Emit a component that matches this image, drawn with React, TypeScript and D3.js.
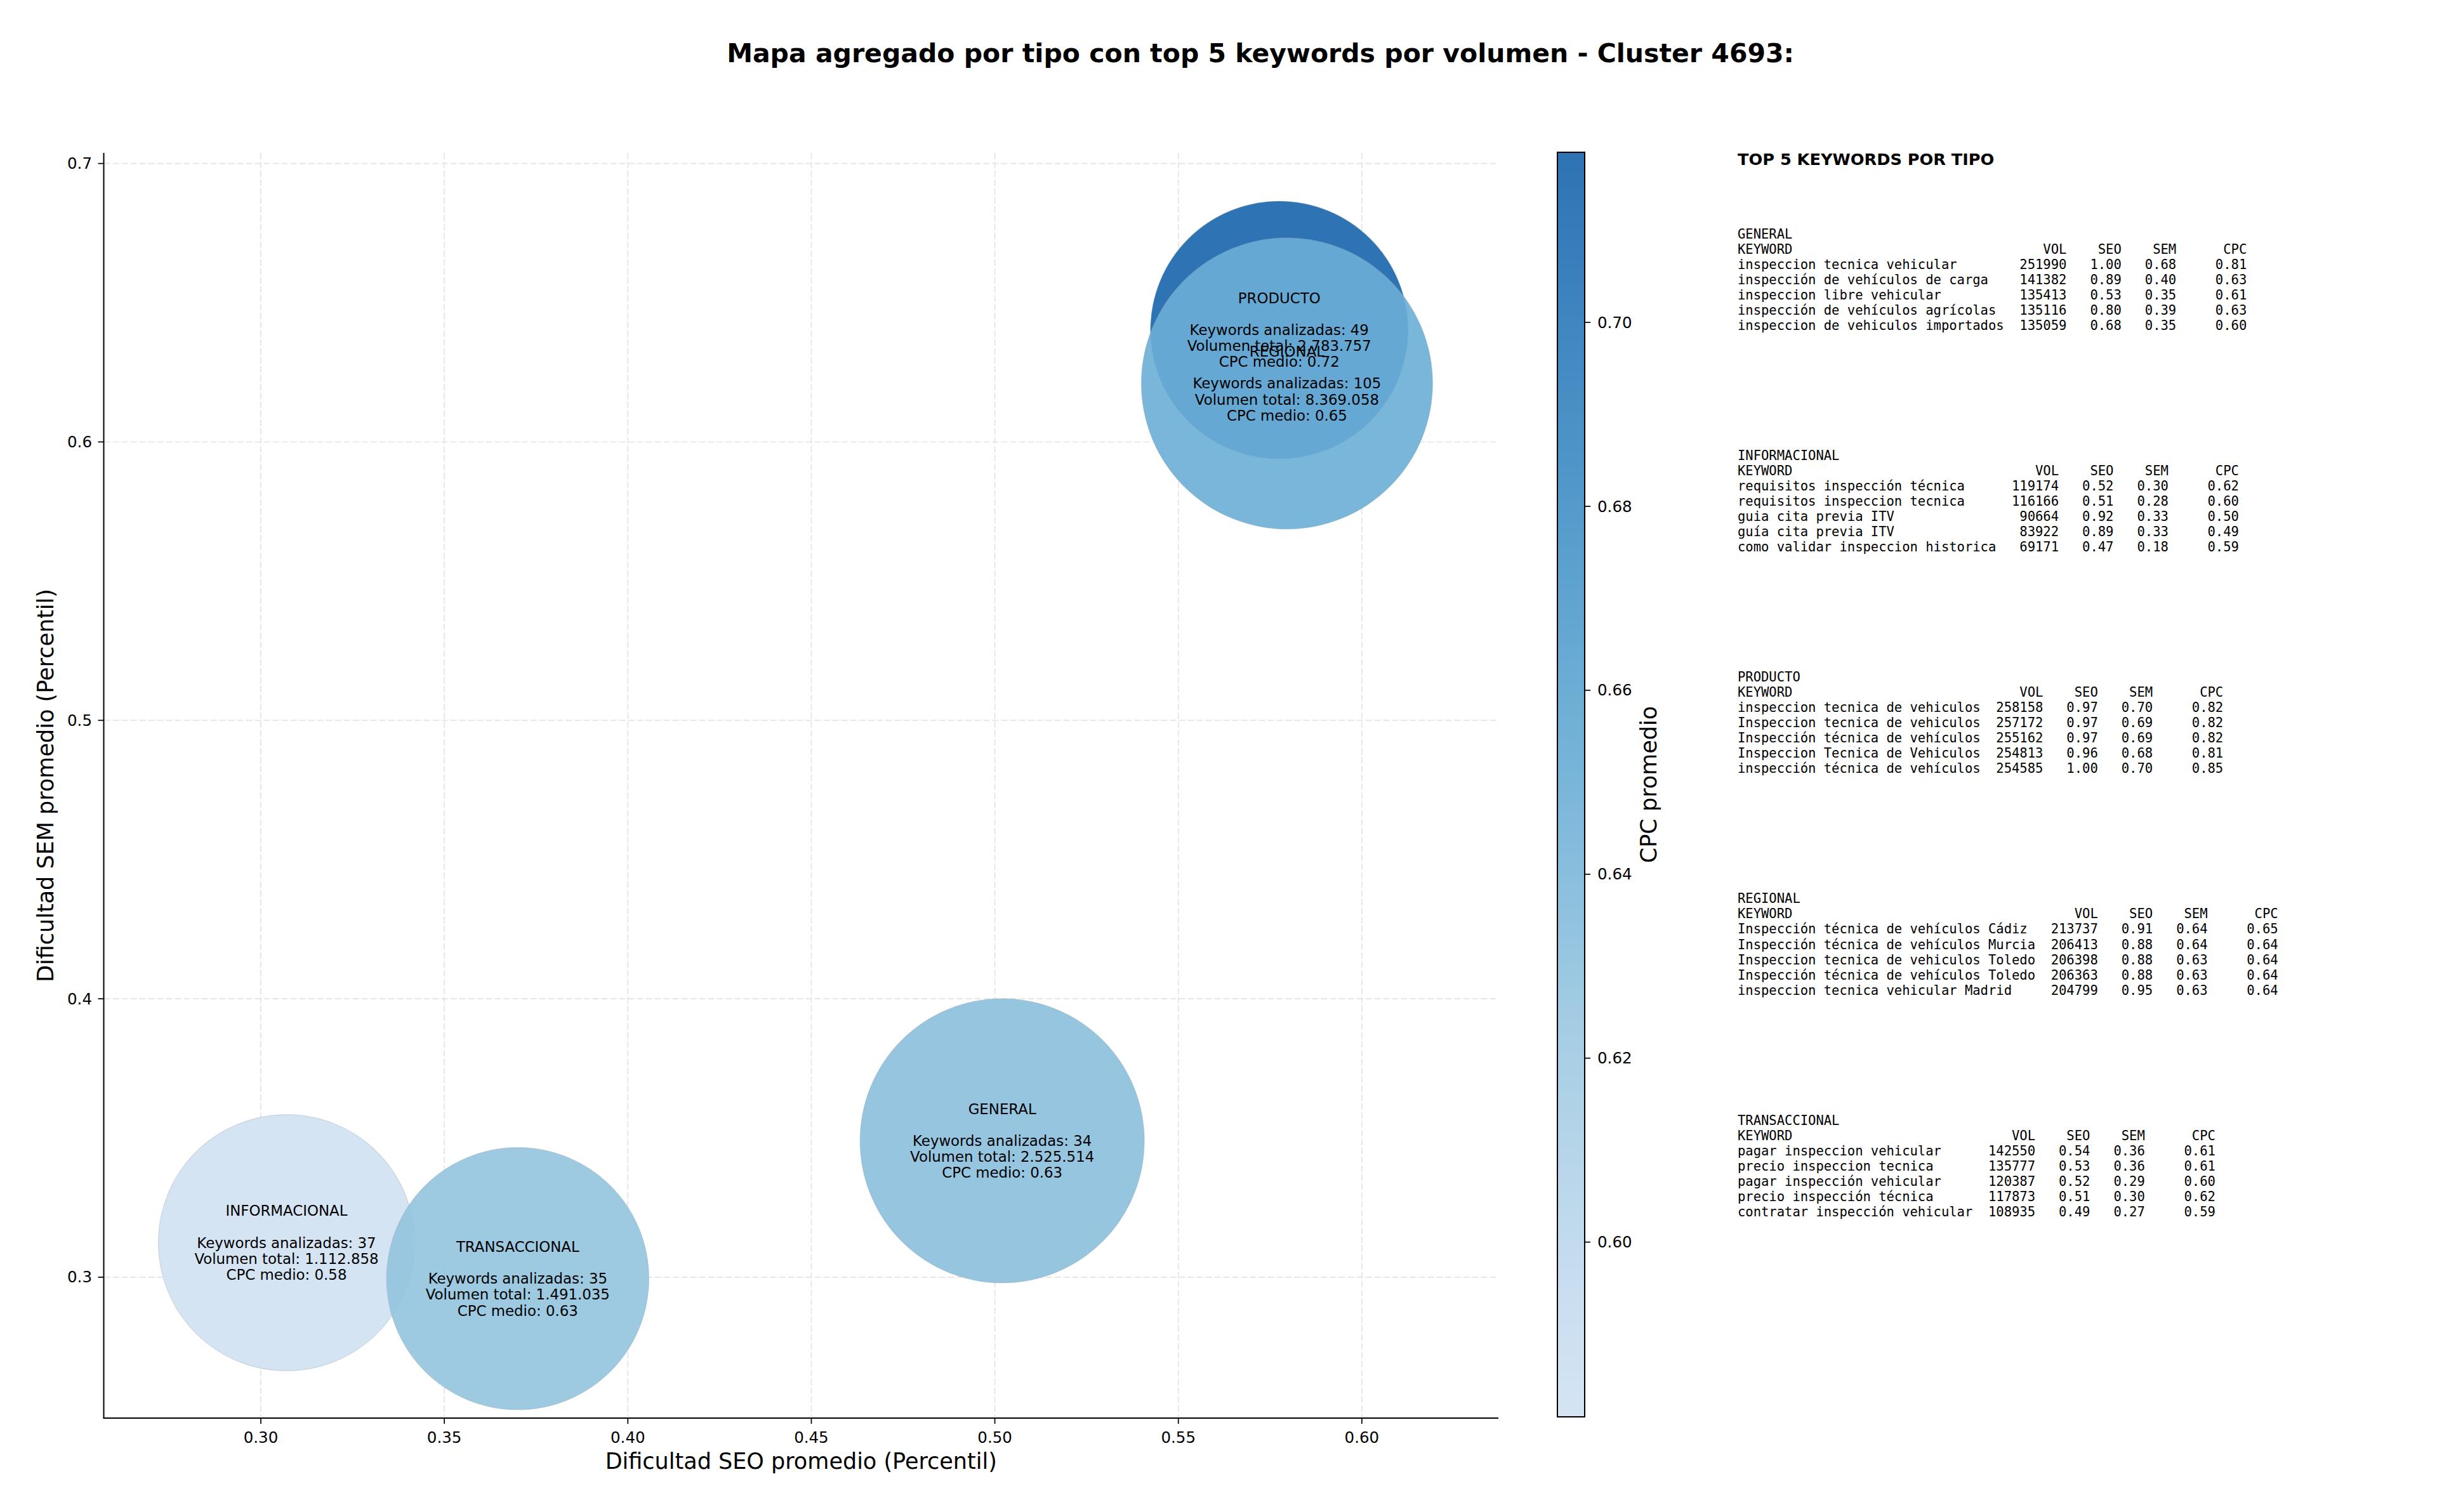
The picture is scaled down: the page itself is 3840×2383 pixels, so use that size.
import React from 'react';
import * as d3 from 'd3';

// ---------- data ----------
const types = ['GENERAL', 'INFORMACIONAL', 'PRODUCTO', 'REGIONAL', 'TRANSACCIONAL'];
const seoAvg = [0.502, 0.307, 0.5775, 0.5796, 0.37];
const semAvg = [0.349, 0.3124, 0.6402, 0.621, 0.2995];
const cpcAvg = [0.632, 0.581, 0.7185, 0.65, 0.628];
const kwCount = [34, 37, 49, 105, 35];
const volTotal = [2525514, 1112858, 2783757, 8369058, 1491035];
const bubbleSize = [5018, 4080, 4121, 5267, 4273];

const xTicks = [0.3, 0.35, 0.4, 0.45, 0.5, 0.55, 0.6];
const yTicks = [0.3, 0.4, 0.5, 0.6, 0.7];
const cbTicks = [0.6, 0.62, 0.64, 0.66, 0.68, 0.7];
const xDomain = [0.2572, 0.6372];
const yDomain = [0.2494, 0.7038];

const topGeneral: [string, number, number, number, number][] = [
  ['inspeccion tecnica vehicular', 251990, 1.0, 0.68, 0.81],
  ['inspección de vehículos de carga', 141382, 0.89, 0.4, 0.63],
  ['inspeccion libre vehicular', 135413, 0.53, 0.35, 0.61],
  ['inspección de vehículos agrícolas', 135116, 0.8, 0.39, 0.63],
  ['inspeccion de vehiculos importados', 135059, 0.68, 0.35, 0.6],
];
const topInformacional: [string, number, number, number, number][] = [
  ['requisitos inspección técnica', 119174, 0.52, 0.3, 0.62],
  ['requisitos inspeccion tecnica', 116166, 0.51, 0.28, 0.6],
  ['guia cita previa ITV', 90664, 0.92, 0.33, 0.5],
  ['guía cita previa ITV', 83922, 0.89, 0.33, 0.49],
  ['como validar inspeccion historica', 69171, 0.47, 0.18, 0.59],
];
const topProducto: [string, number, number, number, number][] = [
  ['inspeccion tecnica de vehiculos', 258158, 0.97, 0.7, 0.82],
  ['Inspeccion tecnica de vehiculos', 257172, 0.97, 0.69, 0.82],
  ['Inspección técnica de vehículos', 255162, 0.97, 0.69, 0.82],
  ['Inspeccion Tecnica de Vehiculos', 254813, 0.96, 0.68, 0.81],
  ['inspección técnica de vehículos', 254585, 1.0, 0.7, 0.85],
];
const topRegional: [string, number, number, number, number][] = [
  ['Inspección técnica de vehículos Cádiz', 213737, 0.91, 0.64, 0.65],
  ['Inspección técnica de vehículos Murcia', 206413, 0.88, 0.64, 0.64],
  ['Inspeccion tecnica de vehiculos Toledo', 206398, 0.88, 0.63, 0.64],
  ['Inspección técnica de vehículos Toledo', 206363, 0.88, 0.63, 0.64],
  ['inspeccion tecnica vehicular Madrid', 204799, 0.95, 0.63, 0.64],
];
const topTransaccional: [string, number, number, number, number][] = [
  ['pagar inspeccion vehicular', 142550, 0.54, 0.36, 0.61],
  ['precio inspeccion tecnica', 135777, 0.53, 0.36, 0.61],
  ['pagar inspección vehicular', 120387, 0.52, 0.29, 0.6],
  ['precio inspección técnica', 117873, 0.51, 0.3, 0.62],
  ['contratar inspección vehicular', 108935, 0.49, 0.27, 0.59],
];
const topTables = [topGeneral, topInformacional, topProducto, topRegional, topTransaccional];

// ---------- layout ----------
const W = 3840;
const H = 2383;
const L = 163.5, R = 2361, T = 241, B = 2235;
const CB_L = 2454, CB_R = 2497, CB_T = 240, CB_B = 2233;
const SANS = 'DejaVu Sans';
const MONO = 'DejaVu Sans Mono';
const ALPHA = 0.9;

const bluesStops = ['#f7fbff', '#deebf7', '#c6dbef', '#9ecae1', '#6baed6', '#4292c6', '#2171b5', '#08519c', '#08306b'];
const blues = d3
  .scaleLinear<string>()
  .domain(bluesStops.map((_, i) => i / (bluesStops.length - 1)))
  .range(bluesStops)
  .interpolate(d3.interpolateRgb);

const esLocale = d3.formatLocale({ decimal: ',', thousands: '.', grouping: [3], currency: ['', ''] });
const fmtVol = esLocale.format(',d');
const f2 = d3.format('.2f');
const f1 = d3.format('.1f');

export default function App() {
  const x = d3.scaleLinear().domain(xDomain).range([L, R]);
  const y = d3.scaleLinear().domain(yDomain).range([B, T]);
  const cMin = d3.min(cpcAvg) as number;
  const cMax = d3.max(cpcAvg) as number;
  const cNorm = d3.scaleLinear().domain([cMin, cMax]).range([0, 1]);
  const color = (v: number) => blues(0.2 + 0.6 * cNorm(v));
  const cbY = d3.scaleLinear().domain([cMin, cMax]).range([CB_B, CB_T]);
  const rScale = d3.scaleSqrt().domain([0, d3.max(bubbleSize) as number]).range([0, 229.5]);

  const gradStops = d3.range(0, 1.0001, 0.05);

  const tableX = 2738;
  const blockY0 = 368.75;
  const blockGap = 349.2;
  const lineH = 24.05;

  const bubbleLineH = 25.2;

  return (
    <svg
      width={W}
      height={H}
      viewBox={`0 0 ${W} ${H}`}
      style={{ position: 'absolute', left: 0, top: 0, background: '#fff' }}
      fontFamily={SANS}
    >
      <rect x={0} y={0} width={W} height={H} fill="#fff" />
      <defs>
        <linearGradient id="cbGrad" x1="0" y1="1" x2="0" y2="0">
          {gradStops.map((t, i) => (
            <stop key={i} offset={t} stopColor={blues(0.2 + 0.6 * t)} />
          ))}
        </linearGradient>
      </defs>

      {/* title */}
      <text x={1986} y={84} textAnchor="middle" dominantBaseline="central" fontSize={41} fontWeight="bold">
        Mapa agregado por tipo con top 5 keywords por volumen - Cluster 4693:
      </text>

      {/* grid */}
      <g stroke="#e4e4e4" strokeWidth={1.7} strokeDasharray="10,4">
        {xTicks.map((t) => (
          <line key={'gx' + t} x1={x(t)} x2={x(t)} y1={T} y2={B} />
        ))}
        {yTicks.map((t) => (
          <line key={'gy' + t} x1={L} x2={R} y1={y(t)} y2={y(t)} />
        ))}
      </g>

      {/* bubbles */}
      <g>
        {types.map((tp, i) => (
          <circle
            key={tp}
            cx={x(seoAvg[i])}
            cy={y(semAvg[i])}
            r={rScale(bubbleSize[i])}
            fill={color(cpcAvg[i])}
            fillOpacity={ALPHA}
            stroke="#8a9aa8"
            strokeOpacity={0.3}
            strokeWidth={1.2}
          />
        ))}
      </g>

      {/* bubble labels */}
      <g fontSize={22.85} textAnchor="middle" fill="#000">
        {types.map((tp, i) => {
          const lines = [
            tp,
            '',
            `Keywords analizadas: ${kwCount[i]}`,
            `Volumen total: ${fmtVol(volTotal[i])}`,
            `CPC medio: ${f2(cpcAvg[i])}`,
          ];
          const cx = x(seoAvg[i]);
          const cy = y(semAvg[i]);
          return (
            <g key={'lbl' + tp}>
              {lines.map((ln, j) =>
                ln ? (
                  <text key={j} x={cx} y={cy + (j - 2) * bubbleLineH} dominantBaseline="central">
                    {ln}
                  </text>
                ) : null
              )}
            </g>
          );
        })}
      </g>

      {/* spines */}
      <line x1={L} x2={L} y1={T} y2={B} stroke="#000" strokeWidth={2} />
      <line x1={L - 1} x2={R} y1={B} y2={B} stroke="#000" strokeWidth={2} />

      {/* x ticks */}
      <g fontSize={24.5} textAnchor="middle">
        {xTicks.map((t) => (
          <g key={'xt' + t}>
            <line x1={x(t)} x2={x(t)} y1={B} y2={B + 9} stroke="#000" strokeWidth={1.7} />
            <text x={x(t)} y={2265} dominantBaseline="central">
              {f2(t)}
            </text>
          </g>
        ))}
      </g>
      {/* y ticks */}
      <g fontSize={24.5} textAnchor="end">
        {yTicks.map((t) => (
          <g key={'yt' + t}>
            <line x1={L - 9} x2={L} y1={y(t)} y2={y(t)} stroke="#000" strokeWidth={1.7} />
            <text x={145} y={y(t)} dominantBaseline="central">
              {f1(t)}
            </text>
          </g>
        ))}
      </g>

      {/* axis labels */}
      <text x={(L + R) / 2} y={2303} textAnchor="middle" dominantBaseline="central" fontSize={35}>
        Dificultad SEO promedio (Percentil)
      </text>
      <text
        transform={`translate(72, ${(T + B) / 2}) rotate(-90)`}
        textAnchor="middle"
        dominantBaseline="central"
        fontSize={35}
      >
        Dificultad SEM promedio (Percentil)
      </text>

      {/* colorbar */}
      <rect x={CB_L} y={CB_T} width={CB_R - CB_L} height={CB_B - CB_T} fill="url(#cbGrad)" fillOpacity={ALPHA} />
      <rect x={CB_L} y={CB_T} width={CB_R - CB_L} height={CB_B - CB_T} fill="none" stroke="#000" strokeWidth={2} />
      <g fontSize={24.5}>
        {cbTicks.map((t) => (
          <g key={'cb' + t}>
            <line x1={CB_R} x2={CB_R + 9} y1={cbY(t)} y2={cbY(t)} stroke="#000" strokeWidth={1.7} />
            <text x={2517} y={cbY(t)} dominantBaseline="central">
              {f2(t)}
            </text>
          </g>
        ))}
      </g>
      <text
        transform={`translate(2598, ${(CB_T + CB_B) / 2}) rotate(-90)`}
        textAnchor="middle"
        dominantBaseline="central"
        fontSize={35}
      >
        CPC promedio
      </text>

      {/* top keywords panel */}
      <text x={tableX} y={251} dominantBaseline="central" fontSize={25.6} fontWeight="bold">
        TOP 5 KEYWORDS POR TIPO
      </text>
      <g fontFamily={MONO} fontSize={20.5} style={{ whiteSpace: 'pre' }}>
        {types.map((tp, i) => {
          const rows = topTables[i];
          const w = d3.max(rows, (r) => r[0].length) as number;
          const header =
            'KEYWORD'.padEnd(w) + 'VOL'.padStart(8) + 'SEO'.padStart(7) + 'SEM'.padStart(7) + 'CPC'.padStart(9);
          const lines = [
            tp,
            header,
            ...rows.map(
              (r) =>
                r[0].padEnd(w) +
                String(r[1]).padStart(8) +
                f2(r[2]).padStart(7) +
                f2(r[3]).padStart(7) +
                f2(r[4]).padStart(9)
            ),
          ];
          const y0 = blockY0 + i * blockGap;
          return (
            <g key={'tb' + tp}>
              {lines.map((ln, j) => (
                <text key={j} x={tableX} y={y0 + j * lineH} dominantBaseline="central" xmlSpace="preserve">
                  {ln}
                </text>
              ))}
            </g>
          );
        })}
      </g>
    </svg>
  );
}
